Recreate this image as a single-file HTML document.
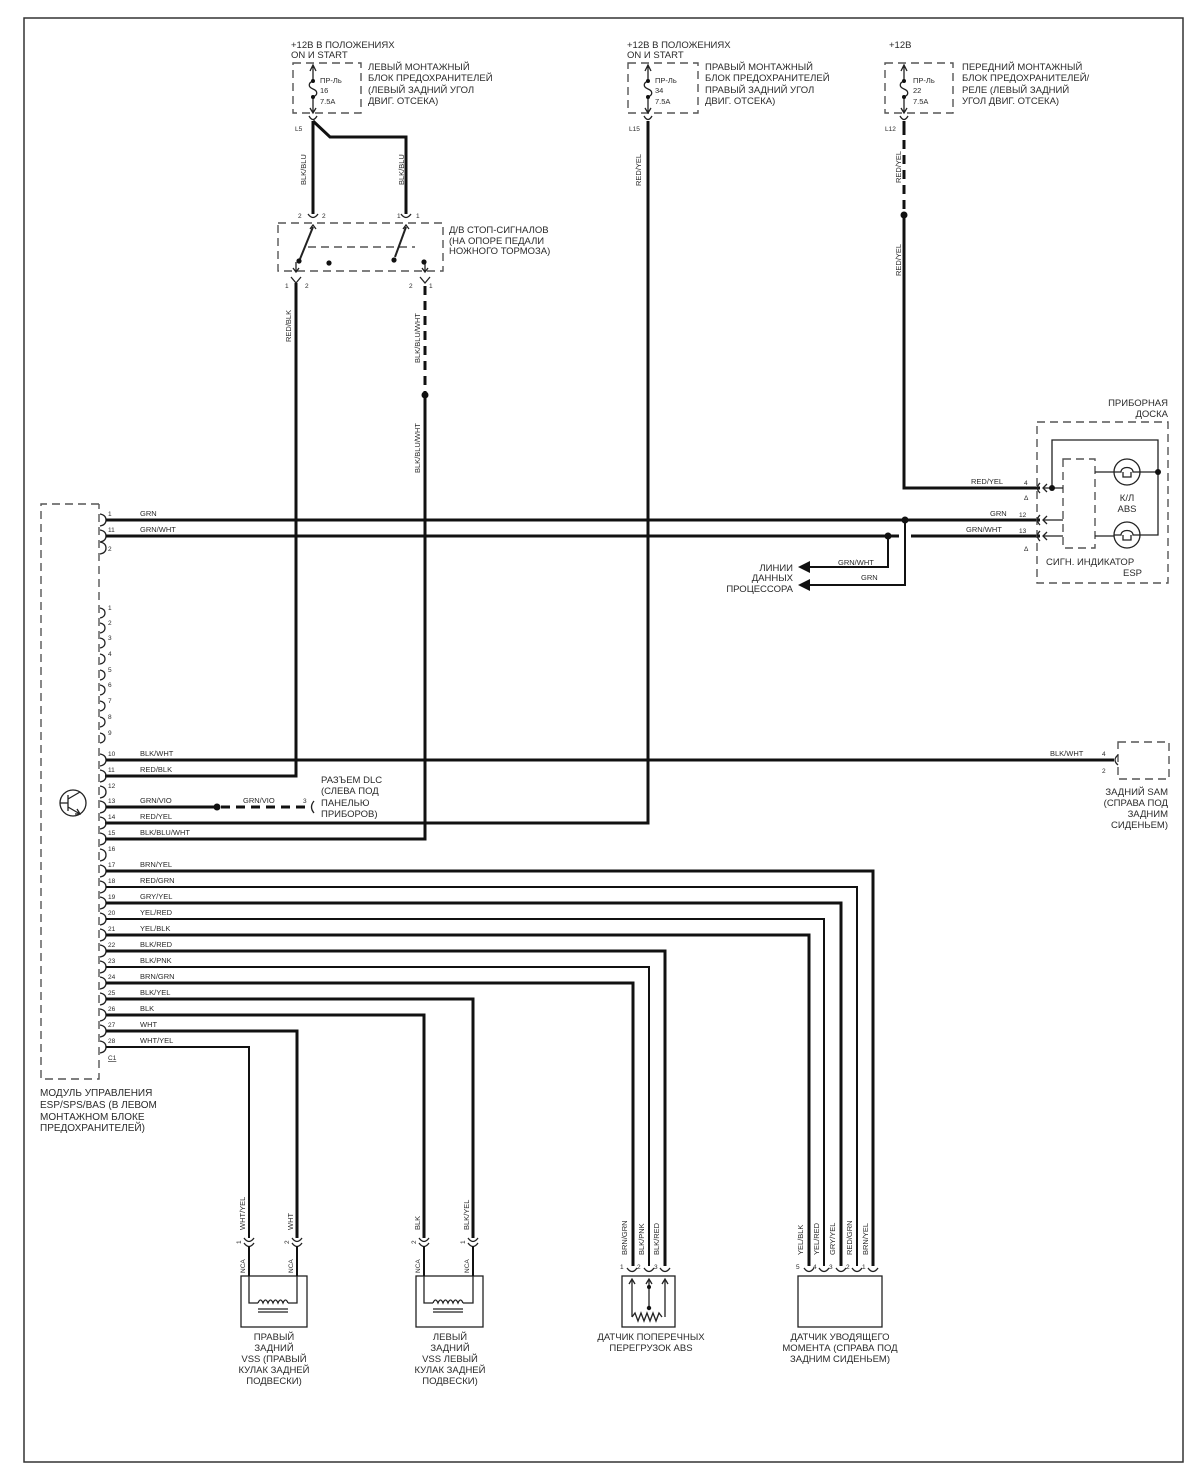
<!DOCTYPE html>
<html><head><meta charset="utf-8">
<style>
body{margin:0;background:#fff}
svg{display:block}
text{font-family:"Liberation Sans",Arial,sans-serif;fill:#2a2a2a}
.t{font-size:9.5px}
.m{font-size:10px}
.w{font-size:7.5px}
.n{font-size:6.5px}
.wire{stroke:#111;stroke-width:3;fill:none}
.thin{stroke:#111;stroke-width:2;fill:none}
.ln{stroke:#222;stroke-width:1.3;fill:none}
.db{stroke:#555;stroke-width:1.4;fill:none;stroke-dasharray:8,5}
.dw{stroke:#111;stroke-width:3;fill:none;stroke-dasharray:9,6}
</style></head>
<body>
<svg width="1200" height="1471" viewBox="0 0 1200 1471" xmlns="http://www.w3.org/2000/svg">
<rect x="0" y="0" width="1200" height="1471" fill="#fff"/>
<rect x="24" y="18" width="1159" height="1444" fill="none" stroke="#333" stroke-width="1.5"/>

<!-- ===== TOP FUSES ===== -->
<!-- left fuse -->
<text class="t" x="291" y="48">+12В В ПОЛОЖЕНИЯХ</text>
<text class="t" x="291" y="58">ON И START</text>
<rect x="293" y="63" width="68" height="50" class="db"/>
<g class="ln">
<path d="M313,66 V80 M313,97 V112 M310,71 L313,65 L316,71 M310,108 L313,113 L316,108"/>
<path d="M313,81 c-5,2 -5,6 0,8 c5,2 5,6 0,8"/>
<path d="M309,116 Q313,123 317,116"/>
</g>
<circle cx="313" cy="81" r="2" fill="#111"/><circle cx="313" cy="97" r="2" fill="#111"/>
<text class="w" x="320" y="83">ПР-Ль</text><text class="w" x="320" y="93">16</text><text class="w" x="320" y="104">7.5A</text>
<text class="t" x="368" y="70">ЛЕВЫЙ МОНТАЖНЫЙ</text>
<text class="t" x="368" y="81">БЛОК ПРЕДОХРАНИТЕЛЕЙ</text>
<text class="t" x="368" y="93">(ЛЕВЫЙ ЗАДНИЙ УГОЛ</text>
<text class="t" x="368" y="104">ДВИГ. ОТСЕКА)</text>
<text class="n" x="295" y="131">L5</text>

<!-- middle fuse -->
<text class="t" x="627" y="48">+12В В ПОЛОЖЕНИЯХ</text>
<text class="t" x="627" y="58">ON И START</text>
<rect x="628" y="63" width="70" height="50" class="db"/>
<g class="ln">
<path d="M648,66 V80 M648,97 V112 M645,71 L648,65 L651,71 M645,108 L648,113 L651,108"/>
<path d="M648,81 c-5,2 -5,6 0,8 c5,2 5,6 0,8"/>
<path d="M644,116 Q648,123 652,116"/>
</g>
<circle cx="648" cy="81" r="2" fill="#111"/><circle cx="648" cy="97" r="2" fill="#111"/>
<text class="w" x="655" y="83">ПР-Ль</text><text class="w" x="655" y="93">34</text><text class="w" x="655" y="104">7.5A</text>
<text class="t" x="705" y="70">ПРАВЫЙ МОНТАЖНЫЙ</text>
<text class="t" x="705" y="81">БЛОК ПРЕДОХРАНИТЕЛЕЙ</text>
<text class="t" x="705" y="93">ПРАВЫЙ ЗАДНИЙ УГОЛ</text>
<text class="t" x="705" y="104">ДВИГ. ОТСЕКА)</text>
<text class="n" x="629" y="131">L15</text>

<!-- right fuse -->
<text class="t" x="889" y="48">+12В</text>
<rect x="885" y="63" width="68" height="50" class="db"/>
<g class="ln">
<path d="M904,66 V80 M904,97 V112 M901,71 L904,65 L907,71 M901,108 L904,113 L907,108"/>
<path d="M904,81 c-5,2 -5,6 0,8 c5,2 5,6 0,8"/>
<path d="M900,116 Q904,123 908,116"/>
</g>
<circle cx="904" cy="81" r="2" fill="#111"/><circle cx="904" cy="97" r="2" fill="#111"/>
<text class="w" x="913" y="83">ПР-Ль</text><text class="w" x="913" y="93">22</text><text class="w" x="913" y="104">7.5A</text>
<text class="t" x="962" y="70">ПЕРЕДНИЙ МОНТАЖНЫЙ</text>
<text class="t" x="962" y="81">БЛОК ПРЕДОХРАНИТЕЛЕЙ/</text>
<text class="t" x="962" y="93">РЕЛЕ (ЛЕВЫЙ ЗАДНИЙ</text>
<text class="t" x="962" y="104">УГОЛ ДВИГ. ОТСЕКА)</text>
<text class="n" x="885" y="131">L12</text>

<!-- ===== TOP WIRES ===== -->
<path class="wire" d="M313,121 V214"/>
<path class="wire" d="M313,121 L330,137 H406 V214"/>
<text class="w" transform="translate(306,185) rotate(-90)">BLK/BLU</text>
<text class="w" transform="translate(404,185) rotate(-90)">BLK/BLU</text>

<path class="wire" d="M648,121 V823 H105"/>
<text class="w" transform="translate(641,186) rotate(-90)">RED/YEL</text>

<path class="wire" d="M904,121 V135"/>
<path class="dw" d="M904,140 V212"/>
<path class="wire" d="M904,215 V488 H1040"/>
<circle cx="904" cy="215" r="3.5" fill="#111"/>
<text class="w" transform="translate(901,183) rotate(-90)">RED/YEL</text>
<text class="w" transform="translate(901,276) rotate(-90)">RED/YEL</text>

<!-- ===== SWITCH ===== -->
<rect x="278" y="223" width="165" height="48" class="db"/>
<path class="db" d="M308,247 H415"/>
<g class="ln">
<path d="M308,214 Q313,221 318,214 M401,214 Q406,221 411,214"/>
<path d="M310,229 L313,225 L316,229 M403,229 L406,225 L409,229"/>
<path d="M313,227 L300,259" stroke-width="2"/>
<path d="M406,227 L395,257" stroke-width="2"/>
<path d="M296,262 V272 M425,262 V272 M293,268 L296,272 L299,268 M422,268 L425,272 L428,268"/>
<path d="M291,277 L296,283 L301,277 M420,277 L425,283 L430,277"/>
</g>
<circle cx="299" cy="261" r="2.6" fill="#111"/>
<circle cx="329" cy="263" r="2.6" fill="#111"/>
<circle cx="394" cy="260" r="2.6" fill="#111"/>
<circle cx="424" cy="262" r="2.6" fill="#111"/>
<text class="n" x="298" y="218">2</text><text class="n" x="322" y="218">2</text>
<text class="n" x="397" y="218">1</text><text class="n" x="416" y="218">1</text>
<text class="n" x="285" y="288">1</text><text class="n" x="305" y="288">2</text>
<text class="n" x="409" y="288">2</text><text class="n" x="429" y="288">1</text>
<text class="t" x="449" y="233">Д/В СТОП-СИГНАЛОВ</text>
<text class="t" x="449" y="244">(НА ОПОРЕ ПЕДАЛИ</text>
<text class="t" x="449" y="254">НОЖНОГО ТОРМОЗА)</text>

<path class="wire" d="M296,283 V776 H105"/>
<text class="w" transform="translate(291,342) rotate(-90)">RED/BLK</text>
<path class="dw" d="M425,286 V392"/>
<circle cx="425" cy="395" r="3.5" fill="#111"/>
<path class="wire" d="M425,395 V839 H105"/>
<text class="w" transform="translate(420,363) rotate(-90)">BLK/BLU/WHT</text>
<text class="w" transform="translate(420,473) rotate(-90)">BLK/BLU/WHT</text>

<!-- ===== MODULE ===== -->
<path class="db" d="M99,504 H41 V1079 H99 V504"/>
<!-- pin brackets -->
<g class="ln" stroke-width="1.1">
<path d="M100,514 q6,1 6,6 q0,5 -6,6 M100,530 q6,1 6,6 q0,5 -6,6 M100,542 q6,1 6,6 q0,5 -6,6"/>
<path d="M100,608 q5,1 5,5 q0,4 -5,5 M100,623 q5,1 5,5 q0,4 -5,5 M100,638 q5,1 5,5 q0,4 -5,5 M100,654 q5,1 5,5 q0,4 -5,5 M100,670 q5,1 5,5 q0,4 -5,5 M100,685 q5,1 5,5 q0,4 -5,5 M100,701 q5,1 5,5 q0,4 -5,5 M100,717 q5,1 5,5 q0,4 -5,5 M100,733 q5,1 5,5 q0,4 -5,5"/>
<path d="M100,754 q6,1 6,6 q0,5 -6,6 M100,770 q6,1 6,6 q0,5 -6,6 M100,786 q6,1 6,6 q0,5 -6,6 M100,801 q6,1 6,6 q0,5 -6,6 M100,817 q6,1 6,6 q0,5 -6,6 M100,833 q6,1 6,6 q0,5 -6,6 M100,849 q6,1 6,6 q0,5 -6,6"/>
<path d="M100,865 q6,1 6,6 q0,5 -6,6 M100,881 q6,1 6,6 q0,5 -6,6 M100,897 q6,1 6,6 q0,5 -6,6 M100,913 q6,1 6,6 q0,5 -6,6 M100,929 q6,1 6,6 q0,5 -6,6 M100,945 q6,1 6,6 q0,5 -6,6 M100,961 q6,1 6,6 q0,5 -6,6 M100,977 q6,1 6,6 q0,5 -6,6 M100,993 q6,1 6,6 q0,5 -6,6 M100,1009 q6,1 6,6 q0,5 -6,6 M100,1025 q6,1 6,6 q0,5 -6,6 M100,1041 q6,1 6,6 q0,5 -6,6"/>
</g>
<!-- pin numbers -->
<g class="n">
<text x="108" y="516">1</text><text x="108" y="532">11</text><text x="108" y="551">2</text>
<text x="108" y="610">1</text><text x="108" y="625">2</text><text x="108" y="640">3</text><text x="108" y="656">4</text><text x="108" y="672">5</text><text x="108" y="687">6</text><text x="108" y="703">7</text><text x="108" y="719">8</text><text x="108" y="735">9</text>
<text x="108" y="756">10</text><text x="108" y="772">11</text><text x="108" y="788">12</text><text x="108" y="803">13</text><text x="108" y="819">14</text><text x="108" y="835">15</text><text x="108" y="851">16</text>
<text x="108" y="867">17</text><text x="108" y="883">18</text><text x="108" y="899">19</text><text x="108" y="915">20</text><text x="108" y="931">21</text><text x="108" y="947">22</text><text x="108" y="963">23</text><text x="108" y="979">24</text><text x="108" y="995">25</text><text x="108" y="1011">26</text><text x="108" y="1027">27</text><text x="108" y="1043">28</text>
<text x="108" y="1060" text-decoration="underline">C1</text>
</g>
<!-- wire labels at module -->
<g class="w">
<text x="140" y="516">GRN</text><text x="140" y="532">GRN/WHT</text>
<text x="140" y="756">BLK/WHT</text><text x="140" y="772">RED/BLK</text>
<text x="140" y="803">GRN/VIO</text><text x="140" y="819">RED/YEL</text><text x="140" y="835">BLK/BLU/WHT</text>
<text x="140" y="867">BRN/YEL</text><text x="140" y="883">RED/GRN</text><text x="140" y="899">GRY/YEL</text><text x="140" y="915">YEL/RED</text><text x="140" y="931">YEL/BLK</text><text x="140" y="947">BLK/RED</text><text x="140" y="963">BLK/PNK</text><text x="140" y="979">BRN/GRN</text><text x="140" y="995">BLK/YEL</text><text x="140" y="1011">BLK</text><text x="140" y="1027">WHT</text><text x="140" y="1043">WHT/YEL</text>
</g>
<text class="m" x="40" y="1096">МОДУЛЬ УПРАВЛЕНИЯ</text>
<text class="m" x="40" y="1108">ESP/SPS/BAS (В ЛЕВОМ</text>
<text class="m" x="40" y="1120">МОНТАЖНОМ БЛОКЕ</text>
<text class="m" x="40" y="1131">ПРЕДОХРАНИТЕЛЕЙ)</text>

<!-- transistor -->
<g class="ln" stroke-width="1.6">
<circle cx="73" cy="803" r="13"/>
<path d="M60,803 H68 M68,795 V811 M68,799 L80,792 M68,807 L80,814"/>
<path d="M75,814 L80,814 L77,809"/>
</g>

<!-- ===== HORIZONTAL WIRES ===== -->
<path class="wire" d="M106,520 H1040"/>
<path class="wire" d="M106,536 H899 M911,536 H1040"/>
<path class="wire" d="M106,760 H1114"/>
<path class="wire" d="M106,807 H217"/>
<path class="dw" d="M221,807 H309"/>
<circle cx="217" cy="807" r="3.5" fill="#111"/>
<text class="w" x="243" y="803">GRN/VIO</text>
<path class="ln" d="M314,801 q-5,6 0,12"/>
<text class="n" x="303" y="803">3</text>
<text class="t" x="321" y="783">РАЗЪЕМ DLC</text>
<text class="t" x="321" y="794">(СЛЕВА ПОД</text>
<text class="t" x="321" y="806">ПАНЕЛЬЮ</text>
<text class="t" x="321" y="817">ПРИБОРОВ)</text>

<path class="wire" d="M106,871 H873 V1266"/>
<path class="thin" d="M106,887 H857 V1266"/>
<path class="wire" d="M106,903 H841 V1266"/>
<path class="thin" d="M106,919 H824 V1266"/>
<path class="wire" d="M106,935 H809 V1266"/>
<path class="wire" d="M106,951 H665 V1266"/>
<path class="thin" d="M106,967 H649 V1266"/>
<path class="wire" d="M106,983 H633 V1266"/>
<path class="wire" d="M106,999 H473 V1238"/>
<path class="wire" d="M106,1015 H424 V1238"/>
<path class="wire" d="M106,1031 H297 V1238"/>
<path class="thin" d="M106,1047 H249 V1238"/>

<!-- data lines -->
<path class="thin" d="M888,536 V567 H808" stroke-width="2.5"/>
<path class="thin" d="M905,520 V585 H808" stroke-width="2.5"/>
<polygon points="798,567 810,561 810,573" fill="#111"/>
<polygon points="798,585 810,579 810,591" fill="#111"/>
<circle cx="905" cy="520" r="3.5" fill="#111"/>
<circle cx="888" cy="536" r="3.5" fill="#111"/>
<text class="w" x="838" y="565">GRN/WHT</text>
<text class="w" x="861" y="580">GRN</text>
<text class="t" x="793" y="571" text-anchor="end">ЛИНИИ</text>
<text class="t" x="793" y="581" text-anchor="end">ДАННЫХ</text>
<text class="t" x="793" y="592" text-anchor="end">ПРОЦЕССОРА</text>

<!-- ===== INSTRUMENT CLUSTER ===== -->
<text class="t" x="1168" y="406" text-anchor="end">ПРИБОРНАЯ</text>
<text class="t" x="1168" y="417" text-anchor="end">ДОСКА</text>
<rect x="1037" y="422" width="131" height="161" class="db"/>
<rect x="1063" y="459" width="32" height="89" class="db"/>
<g class="ln">
<path d="M1040,483 q-5,5 0,10 M1040,515 q-5,5 0,10 M1040,531 q-5,5 0,10"/>
<path d="M1047,484 L1043,488 L1047,492 M1047,516 L1043,520 L1047,524 M1047,532 L1043,536 L1047,540"/>
<path d="M1043,488 H1063 M1043,520 H1063 M1043,536 H1063"/>
<path d="M1052,488 V440 H1158 V535 H1140"/>
<path d="M1095,472 H1114 M1140,472 H1158 M1095,536 H1114"/>
<circle cx="1127" cy="472" r="13"/>
<circle cx="1127" cy="535" r="13"/>
<path d="M1114,472 H1121 c0,-6 12,-6 12,0 H1140 M1123,472 v5 h8 v-5"/>
<path d="M1114,535 H1121 c0,-6 12,-6 12,0 H1140 M1123,535 v5 h8 v-5"/>
</g>
<circle cx="1052" cy="488" r="3" fill="#111"/>
<circle cx="1158" cy="472" r="3" fill="#111"/>
<text class="w" x="971" y="484">RED/YEL</text>
<text class="w" x="990" y="516">GRN</text>
<text class="w" x="966" y="532">GRN/WHT</text>
<text class="n" x="1024" y="485">4</text><text class="n" x="1024" y="500">Δ</text>
<text class="n" x="1019" y="517">12</text><text class="n" x="1019" y="533">13</text>
<text class="n" x="1024" y="551">Δ</text>
<text class="t" x="1127" y="501" text-anchor="middle">К/Л</text>
<text class="t" x="1127" y="512" text-anchor="middle">ABS</text>
<text class="t" x="1046" y="565">СИГН. ИНДИКАТОР</text>
<text class="t" x="1142" y="576" text-anchor="end">ESP</text>

<!-- ===== SAM ===== -->
<rect x="1118" y="742" width="51" height="37" class="db"/>
<path class="ln" d="M1118,755 q-6,5 0,10"/>
<text class="w" x="1050" y="756">BLK/WHT</text>
<text class="n" x="1102" y="756">4</text>
<text class="n" x="1102" y="773">2</text>
<text class="t" x="1168" y="795" text-anchor="end">ЗАДНИЙ SAM</text>
<text class="t" x="1168" y="806" text-anchor="end">(СПРАВА ПОД</text>
<text class="t" x="1168" y="817" text-anchor="end">ЗАДНИМ</text>
<text class="t" x="1168" y="828" text-anchor="end">СИДЕНЬЕМ)</text>

<!-- ===== RIGHT VSS ===== -->
<g class="ln">
<path d="M244,1238 Q249,1245 254,1238 M244,1243 Q249,1250 254,1243 M292,1238 Q297,1245 302,1238 M292,1243 Q297,1250 302,1243"/>
<rect x="241" y="1276" width="66" height="51"/>
<path d="M249,1276 V1303 H258 M297,1276 V1303 H288"/>
<path d="M258,1303 q2.5,-6 5,0 q2.5,-6 5,0 q2.5,-6 5,0 q2.5,-6 5,0 q2.5,-6 5,0 q2.5,-6 5,0"/>
<path d="M258,1309 H288 M258,1312 H288"/>
</g>
<path class="thin" d="M249,1246 V1276 M297,1246 V1276"/>
<text class="w" transform="translate(245,1230) rotate(-90)">WHT/YEL</text>
<text class="w" transform="translate(293,1230) rotate(-90)">WHT</text>
<text class="n" transform="translate(241,1244) rotate(-90)">1</text>
<text class="n" transform="translate(289,1244) rotate(-90)">2</text>
<text class="n" transform="translate(245,1273) rotate(-90)">NCA</text>
<text class="n" transform="translate(293,1273) rotate(-90)">NCA</text>
<text class="t" x="274" y="1340" text-anchor="middle">ПРАВЫЙ</text>
<text class="t" x="274" y="1351" text-anchor="middle">ЗАДНИЙ</text>
<text class="t" x="274" y="1362" text-anchor="middle">VSS (ПРАВЫЙ</text>
<text class="t" x="274" y="1373" text-anchor="middle">КУЛАК ЗАДНЕЙ</text>
<text class="t" x="274" y="1384" text-anchor="middle">ПОДВЕСКИ)</text>

<!-- ===== LEFT VSS ===== -->
<g class="ln">
<path d="M419,1238 Q424,1245 429,1238 M419,1243 Q424,1250 429,1243 M468,1238 Q473,1245 478,1238 M468,1243 Q473,1250 478,1243"/>
<rect x="416" y="1276" width="67" height="51"/>
<path d="M424,1276 V1303 H433 M473,1276 V1303 H463"/>
<path d="M433,1303 q2.5,-6 5,0 q2.5,-6 5,0 q2.5,-6 5,0 q2.5,-6 5,0 q2.5,-6 5,0 q2.5,-6 5,0"/>
<path d="M433,1309 H463 M433,1312 H463"/>
</g>
<path class="thin" d="M424,1246 V1276 M473,1246 V1276"/>
<text class="w" transform="translate(420,1230) rotate(-90)">BLK</text>
<text class="w" transform="translate(469,1230) rotate(-90)">BLK/YEL</text>
<text class="n" transform="translate(416,1244) rotate(-90)">2</text>
<text class="n" transform="translate(465,1244) rotate(-90)">1</text>
<text class="n" transform="translate(420,1273) rotate(-90)">NCA</text>
<text class="n" transform="translate(469,1273) rotate(-90)">NCA</text>
<text class="t" x="450" y="1340" text-anchor="middle">ЛЕВЫЙ</text>
<text class="t" x="450" y="1351" text-anchor="middle">ЗАДНИЙ</text>
<text class="t" x="450" y="1362" text-anchor="middle">VSS ЛЕВЫЙ</text>
<text class="t" x="450" y="1373" text-anchor="middle">КУЛАК ЗАДНЕЙ</text>
<text class="t" x="450" y="1384" text-anchor="middle">ПОДВЕСКИ)</text>

<!-- ===== ABS LATERAL SENSOR ===== -->
<g class="ln">
<path d="M627,1268 Q632,1275 637,1268 M644,1268 Q649,1275 654,1268 M660,1268 Q665,1275 670,1268"/>
<rect x="622" y="1276" width="53" height="51"/>
<path d="M632,1280 V1317 M665,1280 V1317 M649,1280 V1308"/>
<path d="M629,1284 L632,1279 L635,1284 M646,1284 L649,1279 L652,1284 M662,1284 L665,1279 L668,1284"/>
<path d="M632,1317 l3,-4 l3,8 l3,-8 l3,8 l3,-8 l3,8 l3,-8 l3,8 l3,-8 l3,4"/>
</g>
<circle cx="649" cy="1287" r="2" fill="#111"/>
<circle cx="649" cy="1308" r="2.2" fill="#111"/>
<text class="w" transform="translate(627,1255) rotate(-90)">BRN/GRN</text>
<text class="w" transform="translate(644,1255) rotate(-90)">BLK/PNK</text>
<text class="w" transform="translate(659,1255) rotate(-90)">BLK/RED</text>
<text class="n" x="620" y="1269">1</text><text class="n" x="637" y="1269">2</text><text class="n" x="654" y="1269">3</text>
<text class="t" x="651" y="1340" text-anchor="middle">ДАТЧИК ПОПЕРЕЧНЫХ</text>
<text class="t" x="651" y="1351" text-anchor="middle">ПЕРЕГРУЗОК ABS</text>

<!-- ===== YAW SENSOR ===== -->
<g class="ln">
<path d="M804,1268 Q809,1275 814,1268 M819,1268 Q824,1275 829,1268 M836,1268 Q841,1275 846,1268 M852,1268 Q857,1275 862,1268 M868,1268 Q873,1275 878,1268"/>
<rect x="798" y="1276" width="84" height="51"/>
</g>
<text class="w" transform="translate(803,1255) rotate(-90)">YEL/BLK</text>
<text class="w" transform="translate(819,1255) rotate(-90)">YEL/RED</text>
<text class="w" transform="translate(835,1255) rotate(-90)">GRY/YEL</text>
<text class="w" transform="translate(852,1255) rotate(-90)">RED/GRN</text>
<text class="w" transform="translate(868,1255) rotate(-90)">BRN/YEL</text>
<text class="n" x="796" y="1269">5</text><text class="n" x="813" y="1269">4</text><text class="n" x="829" y="1269">3</text><text class="n" x="846" y="1269">2</text><text class="n" x="862" y="1269">1</text>
<text class="t" x="840" y="1340" text-anchor="middle">ДАТЧИК УВОДЯЩЕГО</text>
<text class="t" x="840" y="1351" text-anchor="middle">МОМЕНТА (СПРАВА ПОД</text>
<text class="t" x="840" y="1362" text-anchor="middle">ЗАДНИМ СИДЕНЬЕМ)</text>
</svg>
</body></html>
